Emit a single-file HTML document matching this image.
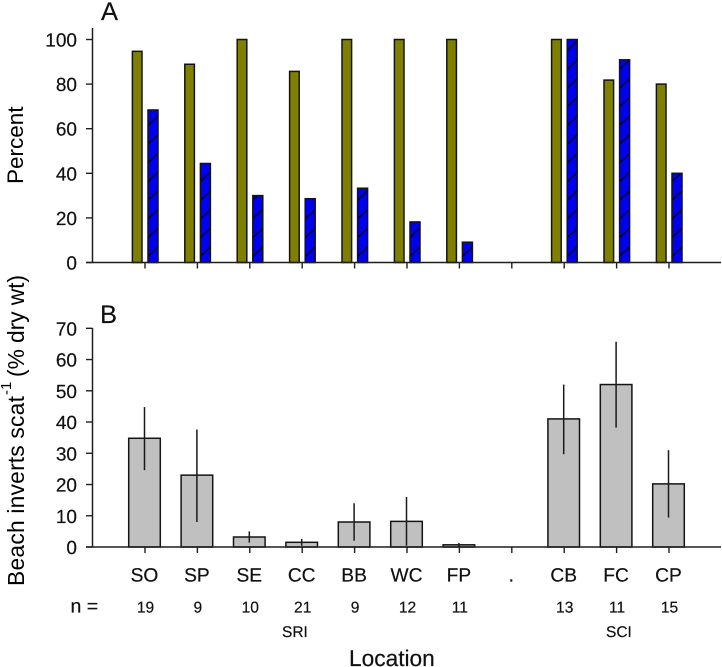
<!DOCTYPE html>
<html>
<head>
<meta charset="utf-8">
<style>
html,body{margin:0;padding:0;background:#fff;}
svg{display:block;}
text{font-family:"Liberation Sans",sans-serif;fill:#111;stroke:#111;stroke-width:0.2;text-rendering:geometricPrecision;}
text.rot{stroke:none;fill:#000;text-rendering:auto;}
</style>
</head>
<body>
<svg id="chart" xmlns="http://www.w3.org/2000/svg" width="722" height="667" viewBox="0 0 722 667">
<defs>
<pattern id="hatch" patternUnits="userSpaceOnUse" width="10.48" height="18.7" patternTransform="translate(148 262.5)">
<rect width="10.48" height="18.7" fill="#0000f0"/>
<line x1="-2" y1="14.4" x2="12.48" y2="0.6" stroke="#00003a" stroke-width="1.6"/>
</pattern>
</defs>
<text x="101" y="20" font-size="25.5">A</text>
<text x="100" y="323" font-size="25.5">B</text>
<text class="rot" transform="translate(23 184) rotate(-90)" font-size="22.5">Percent</text>
<text class="rot" transform="translate(24 586) rotate(-90)" font-size="22.8" x="0 15.5 28.4 41.4 53 65.9 72.4 77.6 90.5 102.1 115.1 122.8 129.3 140.9 147.4 159 170.6 183.6">Beach inverts scat</text>
<text class="rot" transform="translate(11 395) rotate(-90)" font-size="15">-1</text>
<text class="rot" transform="translate(24 377) rotate(-90)" font-size="22.8" x="0 7.6 27.7 34 46.6 54.2 65.5 71.8 88.2 94.5">(% dry wt)</text>
<text x="70.5" y="612.5" font-size="19.5">n =</text>
<text x="282" y="637" font-size="15.5">SRI</text>
<text x="606" y="637" font-size="15.5">SCI</text>
<text x="349" y="666" font-size="22.7">Location</text>
<g id="plot"></g>
</svg>
<script>
const categories = ["SO","SP","SE","CC","BB","WC","FP",".","CB","FC","CP"];
const sampleSizes = ["19","9","10","21","9","12","11","","13","11","15"];
const percentSeriesA = [94.7,88.9,100,85.7,100,100,100,null,100,81.8,80];
const percentSeriesB = [68.4,44.4,30,28.6,33.3,18.2,9.1,null,100,90.9,40];
const percentTicks = [0,20,40,60,80,100];
const invertMeans = [34.8,23,3.2,1.5,8,8.2,0.7,null,41,52,20.2];
const invertUpper = [44.8,37.6,5,2.6,14,16,1.3,null,52,65.7,31];
const invertLower = [24.6,8,1.4,0.4,2,0.4,0.1,null,29.7,38.2,9.4];
const invertTicks = [0,10,20,30,40,50,60,70];

const NS = "http://www.w3.org/2000/svg";
const plot = document.getElementById("plot");
const INK = "#1f1f1f";
function make(tag, attrs, parent) {
  const el = document.createElementNS(NS, tag);
  for (const k in attrs) el.setAttribute(k, attrs[k]);
  (parent || plot).appendChild(el);
  return el;
}
const AXIS_X = 92.5, AXIS_END = 721;
function xPos(i) { return 145 + 52.4 * i; }
function yA(v) { return 262.5 - v * 2.23; }
function yB(v) { return 547 - v * (218.7 / 70); }

function drawBar(x, w, y, base, fill, name) {
  const r = make("rect", { x: x, y: y, width: w, height: base - y, fill: fill, stroke: "#141414", "stroke-width": 1.5 });
  
  
}

function drawAxes(yFn, ticks, base, top, prefix) {
  const yAxis = make("line", { x1: AXIS_X, x2: AXIS_X, y1: top, y2: base, stroke: INK, "stroke-width": 1.5 });
  
  
  const xAxis = make("line", { x1: 86, x2: AXIS_END, y1: base, y2: base, stroke: INK, "stroke-width": 1.5 });
  
  
  ticks.forEach(function (t) {
    const y = yFn(t);
    const tick = make("line", { x1: 86, x2: AXIS_X, y1: y, y2: y, stroke: INK, "stroke-width": 1.4 });
    
    
    const label = make("text", { x: 77, y: y + 7, "text-anchor": "end", "font-size": 19 });
    
    
    label.textContent = t;
  });
  categories.forEach(function (c, i) {
    const x = xPos(i);
    const tick = make("line", { x1: x, x2: x, y1: base, y2: base + 6, stroke: INK, "stroke-width": 1.4 });
    
    
  });
}

/* Panel A */
categories.forEach(function (c, i) {
  const x = xPos(i);
  if (percentSeriesA[i] !== null) {
    drawBar(x - 12.6, 9.6, yA(percentSeriesA[i]), yA(0), "#808000", "percent-bar-olive-" + c.toLowerCase());
  }
  if (percentSeriesB[i] !== null) {
    drawBar(x + 3, 10, yA(percentSeriesB[i]), yA(0), "url(#hatch)", "percent-bar-blue-" + c.toLowerCase());
  }
});
drawAxes(yA, percentTicks, yA(0), 28, "percent");

/* Panel B */
categories.forEach(function (c, i) {
  const x = xPos(i) - 0.5;
  if (invertMeans[i] !== null) {
    drawBar(x - 15.8, 31.6, yB(invertMeans[i]), yB(0), "#c0c0c0", "invert-bar-" + c.toLowerCase());
  }
});
drawAxes(yB, invertTicks, yB(0), 328, "invert");
categories.forEach(function (c, i) {
  const x = xPos(i) - 0.5;
  if (invertMeans[i] !== null) {
    const err = make("line", { x1: x, x2: x, y1: yB(invertUpper[i]), y2: yB(invertLower[i]), stroke: "#1a1a1a", "stroke-width": 1.5 });
    
    
  }
  const label = make("text", { x: x, y: 581.5, "text-anchor": "middle", "font-size": 19.2 });
  
  
  label.textContent = c;
  if (sampleSizes[i]) {
    const n = make("text", { x: x + 1, y: 612.5, "text-anchor": "middle", "font-size": 15.6 });
    
    
    n.textContent = sampleSizes[i];
  }
});
</script>
</body>
</html>
